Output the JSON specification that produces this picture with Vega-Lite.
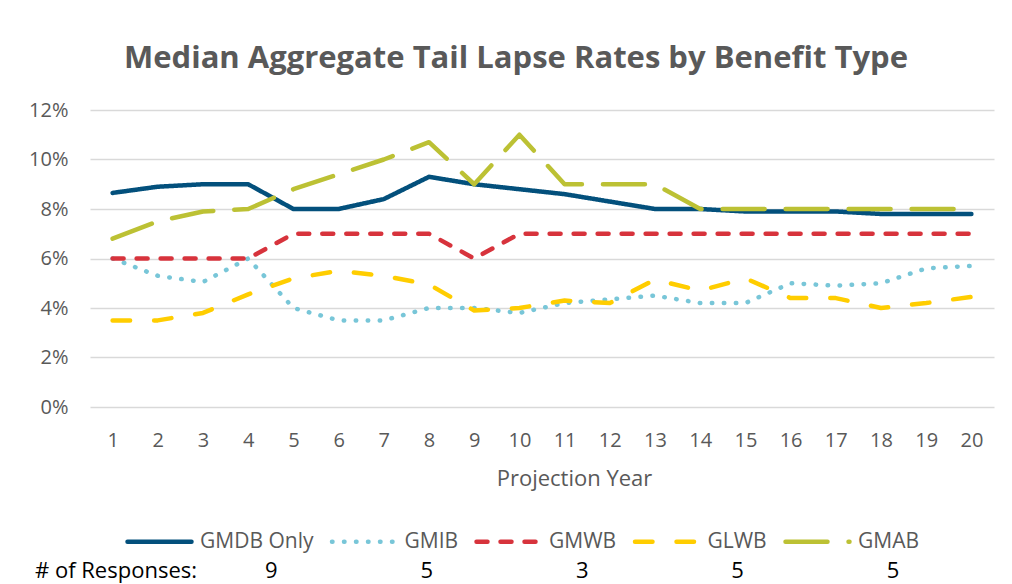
{
  "$schema": "https://vega.github.io/schema/vega-lite/v6.json",
  "width": 904,
  "height": 297,
  "autosize": {"type": "none"},
  "padding": {"left": 90, "top": 110, "right": 18, "bottom": 177},
  "background": "white",
  "title": {
    "text": "Median Aggregate Tail Lapse Rates by Benefit Type",
    "font": "Open Sans",
    "fontSize": 31,
    "fontWeight": "bold",
    "color": "#595959",
    "anchor": "middle",
    "baseline": "alphabetic",
    "offset": 1,
    "dx": -26
  },
  "config": {
    "view": {"stroke": null},
    "font": "Open Sans",
    "legend": {
      "orient": "none",
      "legendX": 35,
      "legendY": 397,
      "direction": "horizontal",
      "symbolType": "stroke",
      "symbolSize": 4096,
      "symbolStrokeWidth": 4.5,
      "labelFont": "Open Sans",
      "labelFontSize": 21,
      "labelColor": "#595959",
      "labelOffset": 6,
      "columnPadding": 8.5,
      "padding": 0,
      "title": null
    }
  },
  "layer": [
    {
      "data": {
        "values": [
          {"benefit": "GMDB Only", "year": 1, "rate": 0.0865},
          {"benefit": "GMDB Only", "year": 2, "rate": 0.089},
          {"benefit": "GMDB Only", "year": 3, "rate": 0.09},
          {"benefit": "GMDB Only", "year": 4, "rate": 0.09},
          {"benefit": "GMDB Only", "year": 5, "rate": 0.08},
          {"benefit": "GMDB Only", "year": 6, "rate": 0.08},
          {"benefit": "GMDB Only", "year": 7, "rate": 0.084},
          {"benefit": "GMDB Only", "year": 8, "rate": 0.093},
          {"benefit": "GMDB Only", "year": 9, "rate": 0.09},
          {"benefit": "GMDB Only", "year": 10, "rate": 0.088},
          {"benefit": "GMDB Only", "year": 11, "rate": 0.086},
          {"benefit": "GMDB Only", "year": 12, "rate": 0.083},
          {"benefit": "GMDB Only", "year": 13, "rate": 0.08},
          {"benefit": "GMDB Only", "year": 14, "rate": 0.08},
          {"benefit": "GMDB Only", "year": 15, "rate": 0.079},
          {"benefit": "GMDB Only", "year": 16, "rate": 0.079},
          {"benefit": "GMDB Only", "year": 17, "rate": 0.079},
          {"benefit": "GMDB Only", "year": 18, "rate": 0.078},
          {"benefit": "GMDB Only", "year": 19, "rate": 0.078},
          {"benefit": "GMDB Only", "year": 20, "rate": 0.078},
          {"benefit": "GMIB", "year": 1, "rate": 0.06},
          {"benefit": "GMIB", "year": 2, "rate": 0.053},
          {"benefit": "GMIB", "year": 3, "rate": 0.0505},
          {"benefit": "GMIB", "year": 4, "rate": 0.06},
          {"benefit": "GMIB", "year": 5, "rate": 0.04},
          {"benefit": "GMIB", "year": 6, "rate": 0.035},
          {"benefit": "GMIB", "year": 7, "rate": 0.035},
          {"benefit": "GMIB", "year": 8, "rate": 0.04},
          {"benefit": "GMIB", "year": 9, "rate": 0.04},
          {"benefit": "GMIB", "year": 10, "rate": 0.038},
          {"benefit": "GMIB", "year": 11, "rate": 0.042},
          {"benefit": "GMIB", "year": 12, "rate": 0.0435},
          {"benefit": "GMIB", "year": 13, "rate": 0.045},
          {"benefit": "GMIB", "year": 14, "rate": 0.042},
          {"benefit": "GMIB", "year": 15, "rate": 0.042},
          {"benefit": "GMIB", "year": 16, "rate": 0.05},
          {"benefit": "GMIB", "year": 17, "rate": 0.049},
          {"benefit": "GMIB", "year": 18, "rate": 0.05},
          {"benefit": "GMIB", "year": 19, "rate": 0.056},
          {"benefit": "GMIB", "year": 20, "rate": 0.057},
          {"benefit": "GMWB", "year": 1, "rate": 0.06},
          {"benefit": "GMWB", "year": 2, "rate": 0.06},
          {"benefit": "GMWB", "year": 3, "rate": 0.06},
          {"benefit": "GMWB", "year": 4, "rate": 0.06},
          {"benefit": "GMWB", "year": 5, "rate": 0.07},
          {"benefit": "GMWB", "year": 6, "rate": 0.07},
          {"benefit": "GMWB", "year": 7, "rate": 0.07},
          {"benefit": "GMWB", "year": 8, "rate": 0.07},
          {"benefit": "GMWB", "year": 9, "rate": 0.06},
          {"benefit": "GMWB", "year": 10, "rate": 0.07},
          {"benefit": "GMWB", "year": 11, "rate": 0.07},
          {"benefit": "GMWB", "year": 12, "rate": 0.07},
          {"benefit": "GMWB", "year": 13, "rate": 0.07},
          {"benefit": "GMWB", "year": 14, "rate": 0.07},
          {"benefit": "GMWB", "year": 15, "rate": 0.07},
          {"benefit": "GMWB", "year": 16, "rate": 0.07},
          {"benefit": "GMWB", "year": 17, "rate": 0.07},
          {"benefit": "GMWB", "year": 18, "rate": 0.07},
          {"benefit": "GMWB", "year": 19, "rate": 0.07},
          {"benefit": "GMWB", "year": 20, "rate": 0.07},
          {"benefit": "GLWB", "year": 1, "rate": 0.035},
          {"benefit": "GLWB", "year": 2, "rate": 0.035},
          {"benefit": "GLWB", "year": 3, "rate": 0.038},
          {"benefit": "GLWB", "year": 4, "rate": 0.0455},
          {"benefit": "GLWB", "year": 5, "rate": 0.052},
          {"benefit": "GLWB", "year": 6, "rate": 0.055},
          {"benefit": "GLWB", "year": 7, "rate": 0.053},
          {"benefit": "GLWB", "year": 8, "rate": 0.0495},
          {"benefit": "GLWB", "year": 9, "rate": 0.039},
          {"benefit": "GLWB", "year": 10, "rate": 0.04},
          {"benefit": "GLWB", "year": 11, "rate": 0.043},
          {"benefit": "GLWB", "year": 12, "rate": 0.042},
          {"benefit": "GLWB", "year": 13, "rate": 0.0515},
          {"benefit": "GLWB", "year": 14, "rate": 0.047},
          {"benefit": "GLWB", "year": 15, "rate": 0.052},
          {"benefit": "GLWB", "year": 16, "rate": 0.044},
          {"benefit": "GLWB", "year": 17, "rate": 0.044},
          {"benefit": "GLWB", "year": 18, "rate": 0.04},
          {"benefit": "GLWB", "year": 19, "rate": 0.042},
          {"benefit": "GLWB", "year": 20, "rate": 0.0445},
          {"benefit": "GMAB", "year": 1, "rate": 0.068},
          {"benefit": "GMAB", "year": 2, "rate": 0.075},
          {"benefit": "GMAB", "year": 3, "rate": 0.079},
          {"benefit": "GMAB", "year": 4, "rate": 0.08},
          {"benefit": "GMAB", "year": 5, "rate": 0.088},
          {"benefit": "GMAB", "year": 6, "rate": 0.094},
          {"benefit": "GMAB", "year": 7, "rate": 0.1},
          {"benefit": "GMAB", "year": 8, "rate": 0.107},
          {"benefit": "GMAB", "year": 9, "rate": 0.09},
          {"benefit": "GMAB", "year": 10, "rate": 0.11},
          {"benefit": "GMAB", "year": 11, "rate": 0.09},
          {"benefit": "GMAB", "year": 12, "rate": 0.09},
          {"benefit": "GMAB", "year": 13, "rate": 0.09},
          {"benefit": "GMAB", "year": 14, "rate": 0.08},
          {"benefit": "GMAB", "year": 15, "rate": 0.08},
          {"benefit": "GMAB", "year": 16, "rate": 0.08},
          {"benefit": "GMAB", "year": 17, "rate": 0.08},
          {"benefit": "GMAB", "year": 18, "rate": 0.08},
          {"benefit": "GMAB", "year": 19, "rate": 0.08},
          {"benefit": "GMAB", "year": 20, "rate": 0.08}
        ]
      },
      "mark": {"type": "line", "strokeWidth": 4.5, "strokeCap": "round", "strokeJoin": "round"},
      "encoding": {
        "x": {
          "field": "year",
          "type": "ordinal",
          "scale": {"type": "point", "padding": 0.5},
          "axis": {
            "title": "Projection Year",
            "labelAngle": 0,
            "labelFont": "Open Sans",
            "labelFontSize": 20,
            "labelColor": "#595959",
            "labelBaseline": "alphabetic",
            "labelPadding": 39,
            "ticks": false,
            "domain": false,
            "grid": false,
            "titleFont": "Open Sans",
            "titleFontSize": 22,
            "titleFontWeight": "normal",
            "titleColor": "#595959",
            "titleX": 484,
            "titleY": 78,
            "titleAlign": "center",
            "titleBaseline": "alphabetic"
          }
        },
        "y": {
          "field": "rate",
          "type": "quantitative",
          "scale": {"domain": [0, 0.12]},
          "axis": {
            "title": null,
            "format": ".0%",
            "values": [0, 0.02, 0.04, 0.06, 0.08, 0.1, 0.12],
            "labelFont": "Open Sans",
            "labelFontSize": 20,
            "labelColor": "#595959",
            "labelPadding": 22,
            "ticks": false,
            "domain": false,
            "grid": true,
            "gridColor": "#D9D9D9",
            "gridWidth": 1.5
          }
        },
        "color": {
          "field": "benefit",
          "type": "nominal",
          "scale": {
            "domain": ["GMDB Only", "GMIB", "GMWB", "GLWB", "GMAB"],
            "range": ["#03507C", "#78C6D8", "#D7333C", "#FFCD00", "#BCC134"]
          },
          "legend": {"encode": {"symbols": {"update": {"strokeCap": {"value": "round"}}}}}
        },
        "strokeDash": {
          "field": "benefit",
          "type": "nominal",
          "scale": {
            "domain": ["GMDB Only", "GMIB", "GMWB", "GLWB", "GMAB"],
            "range": [[1, 0], [0.5, 11.5], [11, 13], [17.5, 24], [42, 21]]
          },
          "legend": {"encode": {"symbols": {"update": {"strokeCap": {"value": "round"}}}}}
        }
      }
    },
    {
      "data": {
        "values": [
          {"column": "# of Responses:", "responses": "# of Responses:"},
          {"column": "GMDB Only", "responses": "9"},
          {"column": "GMIB", "responses": "5"},
          {"column": "GMWB", "responses": "3"},
          {"column": "GLWB", "responses": "5"},
          {"column": "GMAB", "responses": "5"}
        ]
      },
      "mark": {"type": "text", "font": "Open Sans", "fontSize": 22, "color": "#000000", "baseline": "alphabetic", "y": 468},
      "encoding": {
        "x": {
          "field": "column",
          "type": "nominal",
          "sort": null,
          "scale": {"type": "point", "range": [26, 803], "padding": 0},
          "axis": null
        },
        "text": {"field": "responses"}
      }
    }
  ],
  "resolve": {"scale": {"x": "independent"}}
}
